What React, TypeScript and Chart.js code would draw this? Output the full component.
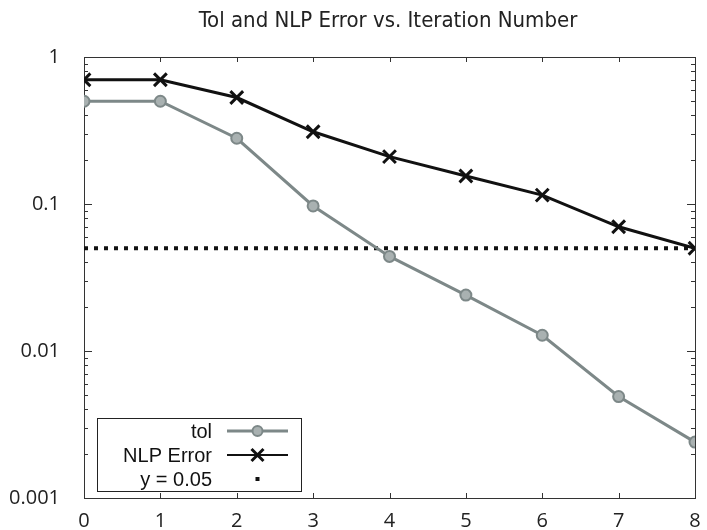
import React, { useEffect, useRef } from "react";
import { Chart, registerables } from "chart.js";

Chart.register(...registerables);

const titleText = "Tol and NLP Error vs. Iteration Number";
const iterations = [0, 1, 2, 3, 4, 5, 6, 7, 8];
const tolValues = [0.5, 0.5, 0.28, 0.097, 0.044, 0.024, 0.0128, 0.0049, 0.0024];
const nlpErrorValues = [0.7, 0.7, 0.53, 0.31, 0.21, 0.155, 0.115, 0.07, 0.05];
const thresholdValue = 0.05;
const yTickValues = [0.001, 0.01, 0.1, 1];
const yTickLabels = ["0.001", "0.01", "0.1", "1"];
const seriesLabels = ["tol", "NLP Error", "y = 0.05"];

const TOL_COLOR = "#7d8888";
const TOL_FILL = "#a9b1b1";
const NLP_COLOR = "#111111";
const TICK_FONT = '"Open Sans", "DejaVu Sans", sans-serif';

const framePlugin = {
  id: "frame",
  beforeDatasetsDraw(chart: any) {
    const { ctx, chartArea: a, scales } = chart;
    const xs = scales.x;
    const ys = scales.y;
    ctx.save();
    ctx.strokeStyle = "#333";
    ctx.lineWidth = 1;
    ctx.strokeRect(a.left + 0.5, a.top + 0.5, a.right - a.left, a.bottom - a.top);
    ctx.beginPath();
    for (const v of iterations) {
      const px = Math.round(xs.getPixelForValue(v)) + 0.5;
      ctx.moveTo(px, a.bottom);
      ctx.lineTo(px, a.bottom - 5);
      ctx.moveTo(px, a.top);
      ctx.lineTo(px, a.top + 5);
    }
    for (const d of yTickValues) {
      for (let m = 1; m <= 9; m++) {
        const v = d * m;
        if (v > 1.0001) continue;
        const py = Math.round(ys.getPixelForValue(v)) + 0.5;
        const len = m === 1 ? 8 : 4;
        ctx.moveTo(a.left, py);
        ctx.lineTo(a.left + len, py);
        ctx.moveTo(a.right, py);
        ctx.lineTo(a.right - len, py);
      }
    }
    ctx.stroke();
    ctx.restore();
  },
  afterDraw(chart: any) {
    const { ctx, chartArea: a } = chart;
    ctx.save();
    // title
    ctx.fillStyle = "#222";
    ctx.font = '22px "Liberation Sans Narrow", "DejaVu Sans Condensed", "Liberation Sans", sans-serif';
    ctx.textAlign = "center";
    ctx.textBaseline = "middle";
    ctx.fillText(titleText, 388, 21);

    // legend
    const bx = a.left + 13;
    const by = a.bottom - 80;
    const bw = 204;
    const bh = 73;
    ctx.fillStyle = "#fff";
    ctx.fillRect(bx, by, bw, bh);
    ctx.strokeStyle = "#222";
    ctx.lineWidth = 1;
    ctx.strokeRect(bx + 0.5, by + 0.5, bw, bh);
    ctx.font = '20px "Liberation Sans", Arial, sans-serif';
    ctx.textAlign = "right";
    ctx.fillStyle = "#111";
    const rows = [by + 13, by + 37, by + 61];
    const textRight = bx + 115;
    const lineL = bx + 130;
    const lineR = bx + 191;
    const mid = (lineL + lineR) / 2;
    seriesLabels.forEach((lab, i) => {
      ctx.fillText(lab, textRight, rows[i] + 1);
    });
    // tol sample
    ctx.strokeStyle = TOL_COLOR;
    ctx.lineWidth = 3;
    ctx.beginPath();
    ctx.moveTo(lineL, rows[0]);
    ctx.lineTo(lineR, rows[0]);
    ctx.stroke();
    ctx.beginPath();
    ctx.arc(mid, rows[0], 5, 0, Math.PI * 2);
    ctx.fillStyle = TOL_FILL;
    ctx.fill();
    ctx.lineWidth = 2;
    ctx.stroke();
    // nlp sample
    ctx.strokeStyle = NLP_COLOR;
    ctx.lineWidth = 2;
    ctx.beginPath();
    ctx.moveTo(lineL, rows[1]);
    ctx.lineTo(lineR, rows[1]);
    ctx.stroke();
    ctx.lineWidth = 3;
    ctx.beginPath();
    const r = 6;
    ctx.moveTo(mid - r, rows[1] - r);
    ctx.lineTo(mid + r, rows[1] + r);
    ctx.moveTo(mid + r, rows[1] - r);
    ctx.lineTo(mid - r, rows[1] + r);
    ctx.stroke();
    // threshold sample
    ctx.fillStyle = "#111";
    ctx.fillRect(mid - 2, rows[2] - 2, 4, 4);
    ctx.restore();
  },
};

export default function App() {
  const ref = useRef<HTMLCanvasElement | null>(null);
  useEffect(() => {
    if (!ref.current) return;
    const chart = new Chart(ref.current, {
      type: "line",
      data: {
        datasets: [
          {
            label: seriesLabels[0],
            data: iterations.map((x, i) => ({ x, y: tolValues[i] })),
            borderColor: TOL_COLOR,
            backgroundColor: TOL_FILL,
            borderWidth: 3,
            pointStyle: "circle",
            pointRadius: 5.5,
            pointBorderWidth: 2,
            pointBorderColor: TOL_COLOR,
            pointBackgroundColor: TOL_FILL,
            tension: 0,
            order: 2,
          },
          {
            label: seriesLabels[1],
            data: iterations.map((x, i) => ({ x, y: nlpErrorValues[i] })),
            borderColor: NLP_COLOR,
            backgroundColor: NLP_COLOR,
            borderWidth: 3,
            pointStyle: "crossRot",
            pointRadius: 9,
            pointBorderWidth: 3,
            pointBorderColor: NLP_COLOR,
            tension: 0,
            order: 1,
          },
          {
            label: seriesLabels[2],
            data: [
              { x: iterations[0], y: thresholdValue },
              { x: iterations[iterations.length - 1], y: thresholdValue },
            ],
            borderColor: "#111",
            borderWidth: 4,
            borderDash: [4, 6],
            borderCapStyle: "butt",
            pointRadius: 0,
            order: 3,
          },
        ],
      },
      options: {
        responsive: false,
        animation: false,
        devicePixelRatio: 1,
        layout: { padding: { top: 57, right: 8, left: 0, bottom: 0 } },
        plugins: {
          legend: { display: false },
          title: { display: false },
          tooltip: { enabled: false },
        },
        scales: {
          x: {
            type: "linear",
            min: 0,
            max: 8,
            grid: { display: false },
            border: { display: false },
            ticks: {
              stepSize: 1,
              color: "#222",
              font: { family: TICK_FONT, size: 20 },
              padding: 3,
              maxRotation: 0,
            },
            afterFit(scale: any) {
              scale.height = 32;
              scale.paddingLeft = 0;
              scale.paddingRight = 0;
            },
          },
          y: {
            type: "logarithmic",
            min: 0.001,
            max: 1,
            grid: { display: false },
            border: { display: false },
            afterBuildTicks(scale: any) {
              scale.ticks = yTickValues.map((v) => ({ value: v }));
            },
            ticks: {
              color: "#222",
              font: { family: TICK_FONT, size: 20 },
              padding: 16,
              callback: (v: any) => {
                const idx = yTickValues.findIndex((t) => Math.abs(t - v) < t * 1e-6);
                return idx >= 0 ? yTickLabels[idx] : "";
              },
            },
            afterFit(scale: any) {
              scale.width = 84;
              scale.paddingTop = 0;
              scale.paddingBottom = 0;
            },
          },
        },
      },
      plugins: [framePlugin],
    });
    return () => chart.destroy();
  }, []);
  return (
    <div style={{ position: "absolute", left: 0, top: 0, width: 707, height: 530, background: "#fff" }}>
      <canvas ref={ref} width={707} height={530} style={{ display: "block" }} />
    </div>
  );
}
